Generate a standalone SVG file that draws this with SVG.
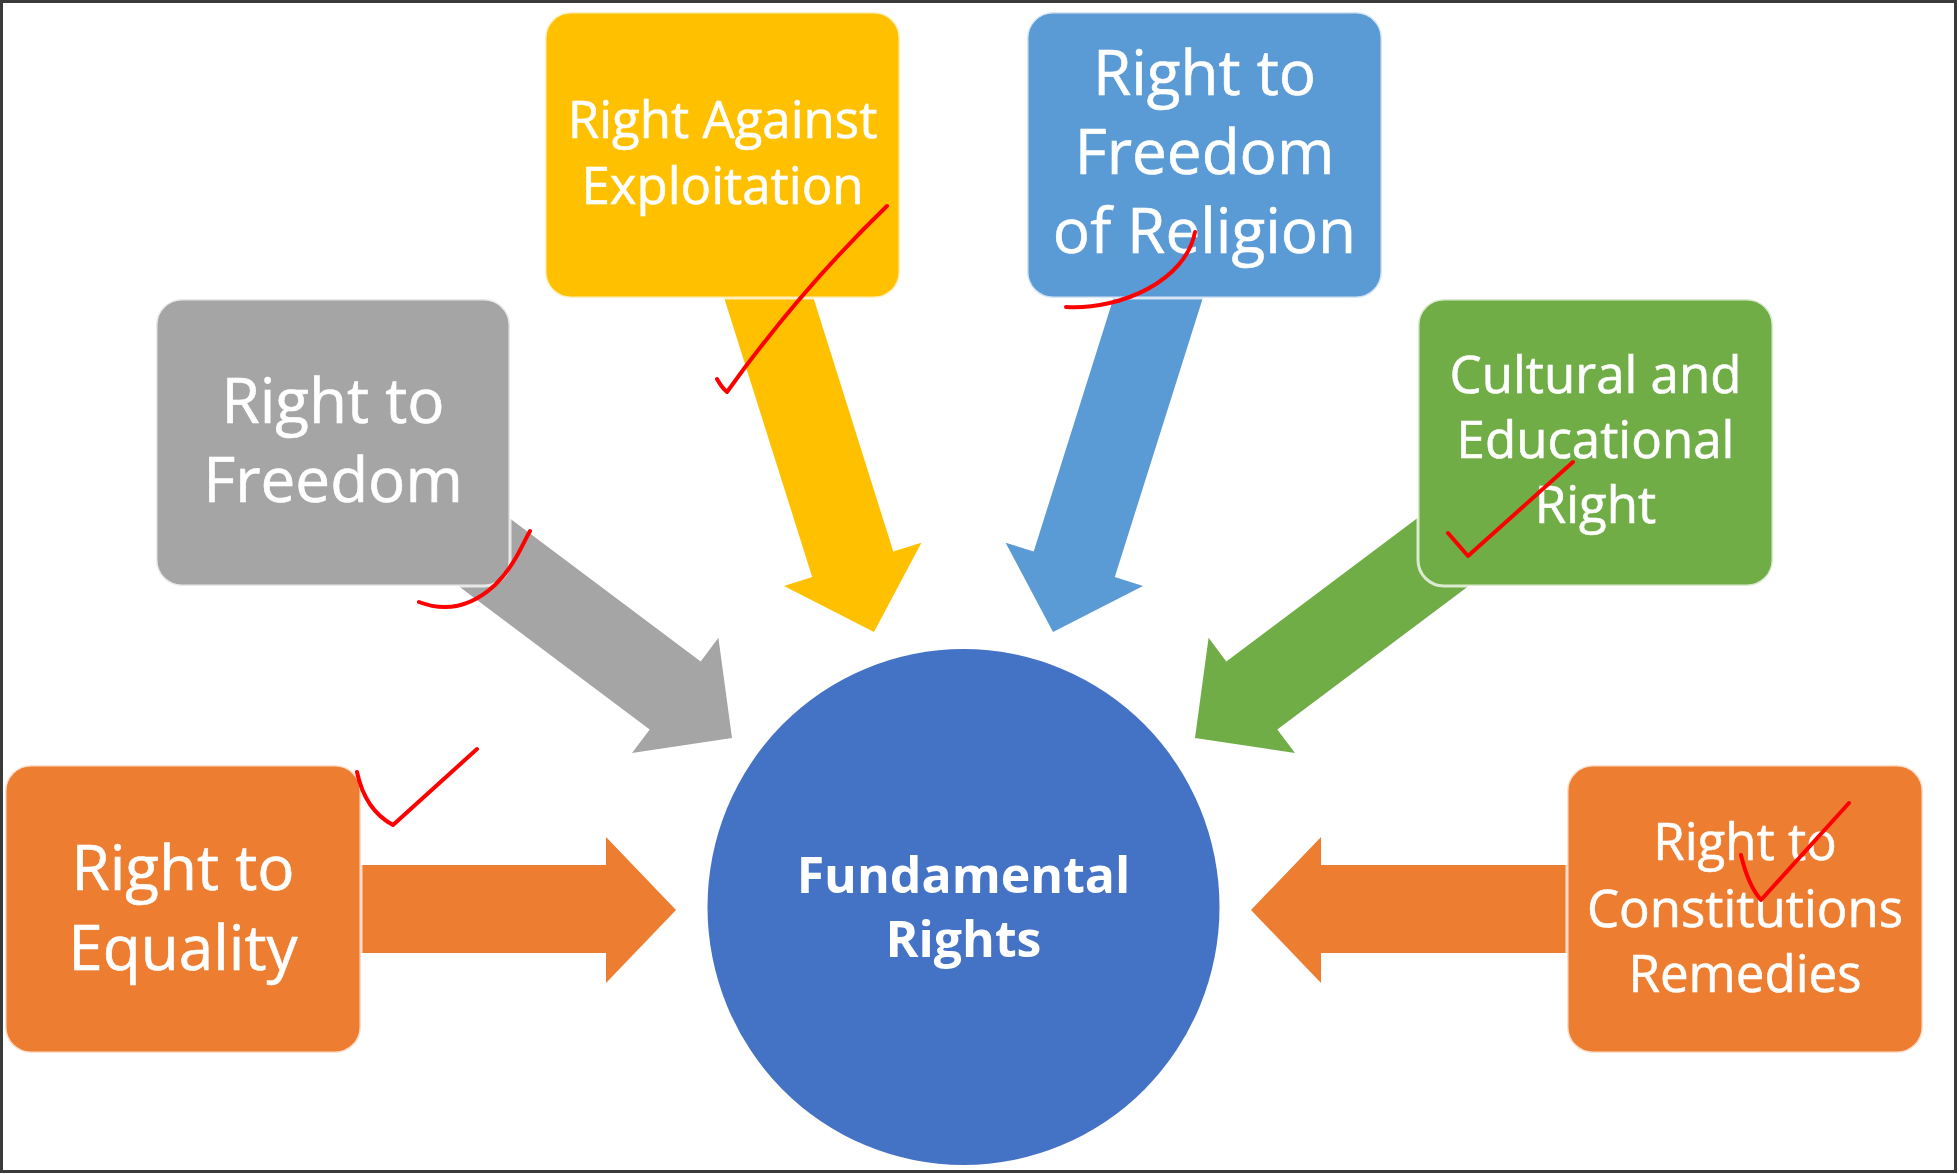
<svg xmlns="http://www.w3.org/2000/svg" width="1959" height="1174" viewBox="0 0 1959 1174">
<style>
  .box { stroke: #ffffff; stroke-width: 3; stroke-opacity: 0.75; }
  .lbl { font-family: "Open Sans", "Noto Sans", sans-serif; fill: #ffffff; text-anchor: middle; stroke: #ffffff; stroke-width: 0.6; }
  .big { font-size: 62px; }
  .mid { font-size: 51px; }
  .ctr { font-size: 50px; font-weight: bold; stroke-width: 0; }
  .tick { fill: none; stroke: #ff0000; stroke-width: 4; stroke-linecap: round; stroke-linejoin: round; }
</style>
<rect x="0" y="0" width="1959" height="1174" fill="#ffffff"/>

<g id="connectors">
  <polygon fill="#FFC000" points="803.5,266.3 893.3,551.5 921.4,542.7 874,632 784,585.9 812.2,577 722.5,292.8"/>
  <polygon fill="#5B9BD5" points="1123.5,266.3 1033.7,551.5 1005.6,542.7 1053,632 1143,585.9 1114.8,577 1204.5,292.8"/>
  <polygon fill="#A5A5A5" points="437.5,464 700.7,661.4 718.4,637.8 732,738 632,753 649.7,729.4 386.5,532"/>
  <polygon fill="#70AD47" points="1489.5,464 1226.3,661.4 1208.6,637.8 1195,738 1295,753 1277.3,729.4 1540.5,532"/>
  <polygon fill="#ED7D31" points="350,865 606,865 606,837 676,910 606,983 606,953 350,953"/>
  <polygon fill="#ED7D31" points="1577,865 1321,865 1321,837 1251,910 1321,983 1321,953 1577,953"/>
</g>

<g id="node-exploitation">
  <rect class="box" x="545" y="12" width="355" height="286" rx="26" fill="#FFC000"/>
  <text class="lbl mid" x="722.5" y="138">Right Against</text>
  <text class="lbl mid" x="722.5" y="204">Exploitation</text>
</g>
<g id="node-religion">
  <rect class="box" x="1027" y="12" width="355" height="286" rx="26" fill="#5B9BD5"/>
  <text class="lbl big" x="1204.5" y="95">Right to</text>
  <text class="lbl big" x="1204.5" y="174">Freedom</text>
  <text class="lbl big" x="1204.5" y="253">of Religion</text>
</g>
<g id="node-freedom">
  <rect class="box" x="156" y="299" width="354" height="287" rx="26" fill="#A5A5A5"/>
  <text class="lbl big" x="333" y="423">Right to</text>
  <text class="lbl big" x="333" y="502">Freedom</text>
</g>
<g id="node-cultural">
  <rect class="box" x="1418" y="299" width="355" height="287" rx="26" fill="#70AD47"/>
  <text class="lbl mid" x="1595.5" y="393">Cultural and</text>
  <text class="lbl mid" x="1595.5" y="458">Educational</text>
  <text class="lbl mid" x="1595.5" y="523">Right</text>
</g>
<g id="node-equality">
  <rect class="box" x="5" y="765" width="356" height="288" rx="26" fill="#ED7D31"/>
  <text class="lbl big" x="183" y="890">Right to</text>
  <text class="lbl big" x="183" y="970">Equality</text>
</g>
<g id="node-remedies">
  <rect class="box" x="1567" y="765" width="356" height="288" rx="26" fill="#ED7D31"/>
  <text class="lbl mid" x="1745" y="860">Right to</text>
  <text class="lbl mid" x="1745" y="927">Constitutions</text>
  <text class="lbl mid" x="1745" y="992">Remedies</text>
</g>
<g id="node-fundamental">
  <ellipse cx="963.5" cy="907" rx="256" ry="258" fill="#4472C4"/>
  <text class="lbl ctr" x="963.5" y="893">Fundamental</text>
  <text class="lbl ctr" x="963.5" y="957">Rights</text>
</g>

<g id="annotations">
  <path class="tick" d="M717,379 Q722,388 727,392 Q800,290 887,206"/>
  <path class="tick" d="M1195,232 C1186,280 1122,310 1066,307"/>
  <path class="tick" d="M419,602 C445,612 470,608 495,585 C515,565 522,545 530,531"/>
  <path class="tick" d="M357,772 Q365,810 393,825 L477,749"/>
  <path class="tick" d="M1448,533 L1468,556 L1573,462"/>
  <path class="tick" d="M1741,855 Q1748,885 1761,900 L1849,803"/>
</g>

<rect x="1.5" y="1.5" width="1954" height="1170" fill="none" stroke="#3a3a3a" stroke-width="3"/>
</svg>
